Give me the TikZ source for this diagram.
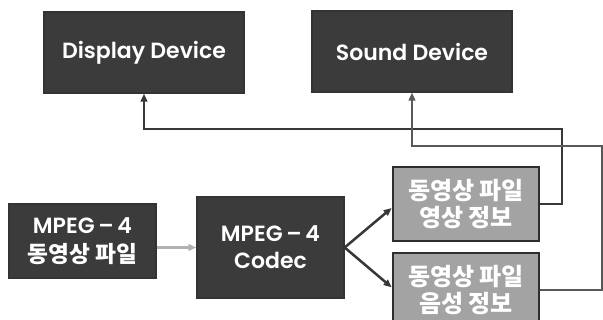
\documentclass[tikz,border=0pt]{standalone}
\usepackage{fontspec}
\setmainfont{Poppins}[BoldFont={Poppins SemiBold}]
\newfontfamily\kr{Noto Sans CJK KR}
\usetikzlibrary{positioning,arrows.meta}

\begin{document}
\begin{tikzpicture}[x=0.75pt,y=-0.75pt]
	\tikzstyle{darkbox}=[rectangle,draw=black!80,line width=1pt,fill=black!77,text=white,align=center,font=\bfseries\fontsize{16.5}{19}\selectfont]
	\tikzstyle{infobox}=[rectangle,draw=black!82,line width=2pt,fill=black!36,text=white,align=center,font=\kr\bfseries\fontsize{18}{20}\selectfont,minimum width=109.5pt,minimum height=55.5pt]
	\tikzstyle{link}=[draw=black!78,line width=1.9pt,-{Triangle[length=6pt,width=5pt]}]
	\useasboundingbox (0,0) rectangle (603,320);
		\node[darkbox, minimum width=150pt, minimum height=60.75pt] (disp) at (144,52.5) {Display Device};
		\node[darkbox, minimum width=150pt, minimum height=60.75pt] (sound) at (412,51.5) {Sound Device};
		\node[darkbox, minimum width=110.25pt, minimum height=55.5pt] (file) at (82.5,241) {MPEG\,--\,4\\[3pt]{\kr\fontsize{17}{19}\selectfont 동영상 파일}};
		\node[darkbox, minimum width=110.25pt, minimum height=75.75pt] (codec) at (270.5,247.5) {MPEG\,--\,4\\[1pt]Codec};
		\node[infobox] (vinfo) at (466,204) {동영상 파일\\영상 정보};
		\node[infobox] (ainfo) at (466,290) {동영상 파일\\음성 정보};
		\coordinate (vturn) at (562,129);
		\coordinate (aturn) at (601.5,146);
			\draw[link, draw=black!30] (file.east |- codec.west) -- (codec.west);
			\draw[link] (codec.east) -- ([yshift=-3pt]vinfo.west);
			\draw[link] (codec.east) -- ([yshift=2pt]ainfo.west);
			\draw[link] (vinfo.east) -| (vturn) -| (disp.south);
			\draw[link, draw=black!65, line width=1.5pt] (ainfo.east) -| (aturn) -| (sound.south);
\end{tikzpicture}
\end{document}
